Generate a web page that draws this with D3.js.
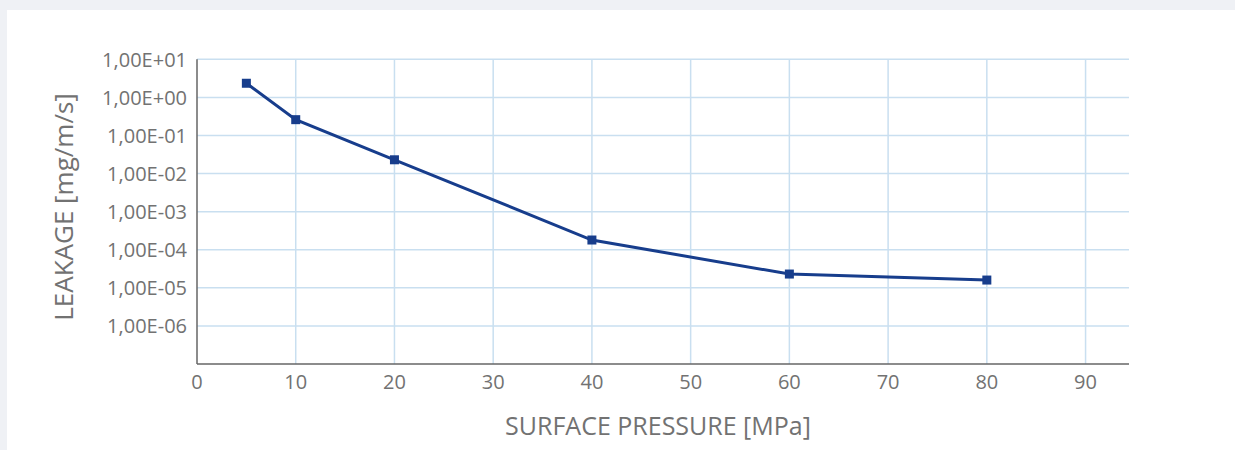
<!DOCTYPE html>
<html>
<head>
<script src="https://d3js.org/d3.v7.min.js"></script>
<style>
  body { margin: 0; background: #eff1f5; }
  text { font-family: "Open Sans", sans-serif; fill: #727272; }
</style>
</head>
<body>
<svg class="target"></svg>
<script>

// data
pressure = [5, 10, 20, 40, 60, 80]
leakage = [2.35, 0.26, 0.023, 1.8e-4, 2.3e-5, 1.6e-5]
xTicks = [0, 10, 20, 30, 40, 50, 60, 70, 80, 90]
yTicks = [1e1, 1e0, 1e-1, 1e-2, 1e-3, 1e-4, 1e-5, 1e-6]
yLabels = ['1,00E+01', '1,00E+00', '1,00E-01', '1,00E-02', '1,00E-03', '1,00E-04', '1,00E-05', '1,00E-06']

width = 1235
height = 450

svg = d3.select('.target')
      .attr('width', width)
      .attr('height', height)
      .style('display', 'block')

// white card
svg.append('rect')
    .attr('x', 7).attr('y', 10)
    .attr('width', width - 7).attr('height', height - 10)
    .style('fill', 'white')

x = d3.scaleLinear().domain([0, 94.4]).range([197, 1129])
y = d3.scaleLog().domain([1e-7, 1e1]).range([364, 59.3])

// gridlines
svg.append('g').selectAll('line')
    .data(yTicks)
    .join('line')
      .attr('x1', x(0)).attr('x2', x(94.4))
      .attr('y1', d => y(d)).attr('y2', d => y(d))
      .style('stroke', '#c9dff0').style('stroke-width', 1.5)

svg.append('g').selectAll('line')
    .data(xTicks.slice(1))
    .join('line')
      .attr('x1', d => x(d)).attr('x2', d => x(d))
      .attr('y1', y(1e1)).attr('y2', y(1e-7))
      .style('stroke', '#c9dff0').style('stroke-width', 1.5)

// axes lines
svg.append('line')
    .attr('x1', x(0)).attr('x2', x(0))
    .attr('y1', y(1e1)).attr('y2', y(1e-7))
    .style('stroke', '#666').style('stroke-width', 1.5)
svg.append('line')
    .attr('x1', x(0)).attr('x2', x(94.4))
    .attr('y1', y(1e-7)).attr('y2', y(1e-7))
    .style('stroke', '#666').style('stroke-width', 1.5)

// tick labels
svg.append('g').selectAll('text')
    .data(yTicks)
    .join('text')
      .attr('x', 187)
      .attr('y', d => y(d))
      .attr('dy', '0.36em')
      .attr('text-anchor', 'end')
      .style('font-size', '20px')
      .text((d, i) => yLabels[i])

svg.append('g').selectAll('text')
    .data(xTicks)
    .join('text')
      .attr('x', d => x(d))
      .attr('y', 389)
      .attr('text-anchor', 'middle')
      .style('font-size', '20px')
      .text(d => d)

// axis titles
svg.append('text')
    .attr('x', 658).attr('y', 435)
    .attr('text-anchor', 'middle')
    .style('font-size', '25px')
    .text('SURFACE PRESSURE [MPa]')

svg.append('text')
    .attr('transform', 'translate(73,207) rotate(-90)')
    .attr('text-anchor', 'middle')
    .style('font-size', '26px')
    .text('LEAKAGE [mg/m/s]')

// series
pts = pressure.map((p, i) => [p, leakage[i]])

svg.append('path')
    .datum(pts)
    .attr('d', d3.line().x(d => x(d[0])).y(d => y(d[1])))
    .style('fill', 'none')
    .style('stroke', '#173d8c')
    .style('stroke-width', 3)

svg.append('g').selectAll('rect')
    .data(pts)
    .join('rect')
      .attr('x', d => x(d[0]) - 4.5)
      .attr('y', d => y(d[1]) - 4.5)
      .attr('width', 9).attr('height', 9)
      .style('fill', '#173d8c')

</script>
</body>
</html>
